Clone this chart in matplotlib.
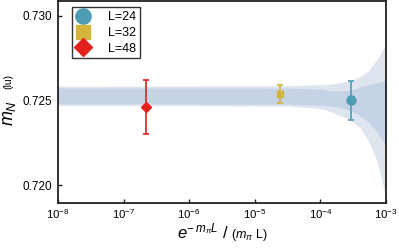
import numpy as np
import matplotlib
matplotlib.use("Agg")
import matplotlib.pyplot as plt
from matplotlib.lines import Line2D

plt.rcParams['font.family'] = ['Liberation Sans', 'DejaVu Sans']
plt.rcParams['mathtext.fontset'] = 'custom'
plt.rcParams['mathtext.rm'] = 'Liberation Sans'
plt.rcParams['mathtext.it'] = 'Liberation Sans:italic'
plt.rcParams['mathtext.bf'] = 'Liberation Sans:bold'

# data points: L, x = exp(-m_pi L)/(m_pi L), m_N, error
labels = ["L=24", "L=32", "L=48"]
x_pts = [2.90e-4, 2.42e-5, 2.17e-7]
y_pts = [0.72502, 0.72539, 0.72463]
y_err = [0.00116, 0.00055, 0.00160]
colors = ["#4f9db5", "#d3b53c", "#e3201b"]
markers = ["o", "s", "D"]

# fit bands, log10(x)
band_logx = [-8.0, -4.5, -4.0, -3.85, -3.7, -3.55, -3.4, -3.27, -3.14, -3.0]
inner_hi = [0.72575, 0.72574, 0.72568, 0.72559, 0.72556, 0.72562, 0.72579, 0.72594, 0.72606, 0.72618]
inner_lo = [0.72481, 0.72479, 0.72471, 0.72468, 0.72459, 0.72441, 0.72412, 0.72374, 0.72318, 0.72235]
outer_hi = [0.72585, 0.72588, 0.72594, 0.72597, 0.72606, 0.72618, 0.72641, 0.72676, 0.72741, 0.72835]
outer_lo = [0.72471, 0.72468, 0.72453, 0.72435, 0.72412, 0.72388, 0.72341, 0.72265, 0.72147, 0.71929]

fig = plt.figure(figsize=(3.99, 2.48), dpi=100)
ax = fig.add_axes([58/399, 1 - 202.7/248, 328/399, 201.7/248])

bx = 10 ** np.array(band_logx)
ax.fill_between(bx, outer_lo, outer_hi, color="#dfe5ef", lw=0, zorder=1)
ax.fill_between(bx, inner_lo, inner_hi, color="#c6d2e6", lw=0, zorder=2)

for i in range(len(x_pts)):
    ax.errorbar(x_pts[i], y_pts[i], yerr=y_err[i], fmt=markers[i], color=colors[i],
                ms=[6.5, 4.5, 5][i], elinewidth=1.2, capsize=2.2, capthick=1.2, zorder=5)

ax.set_xscale("log")
ax.set_xlim(1e-8, 1e-3)
ax.set_ylim(0.71897, 0.73088)
ax.set_xticks([1e-8, 1e-7, 1e-6, 1e-5, 1e-4, 1e-3])
ax.minorticks_off()
ax.set_yticks([0.720, 0.725, 0.730])
ax.set_yticklabels(["0.720", "0.725", "0.730"])
ax.tick_params(axis="both", direction="in", length=3, width=1, color="#222222")
ax.tick_params(axis="x", labelsize=8.2, pad=3)
ax.tick_params(axis="y", labelsize=8.5, pad=4)
for s in ax.spines.values():
    s.set_linewidth(1.3)
    s.set_color("#222222")

handles = [Line2D([], [], ls="none", marker=markers[i], color=colors[i],
                  ms=[11, 10, 9][i]) for i in range(3)]
leg = ax.legend(handles, labels, loc="upper left", bbox_to_anchor=(0.043, 0.968),
                fontsize=9, frameon=True, fancybox=False, edgecolor="black",
                handlelength=1.1, handletextpad=1.5, labelspacing=0.3,
                borderpad=0.3, borderaxespad=0)
leg.get_frame().set_linewidth(1.0)

# axis labels
fig.text(9.5/399, 1 - 113/248, r"$m_N$", fontsize=13, rotation=90, ha="center", va="center")
fig.text(8.5/399, 1 - 81/248, "(lu)", fontsize=7.5, rotation=90, ha="center", va="center")
fig.text(229/399, 1 - 238/248, r"$e^{-\,m_\pi L}$ /", fontsize=12, ha="right", va="baseline")
fig.text(231/399, 1 - 238/248, r"($m_\pi$ L)", fontsize=9, ha="left", va="baseline")

fig.savefig("out.png", dpi=100)
